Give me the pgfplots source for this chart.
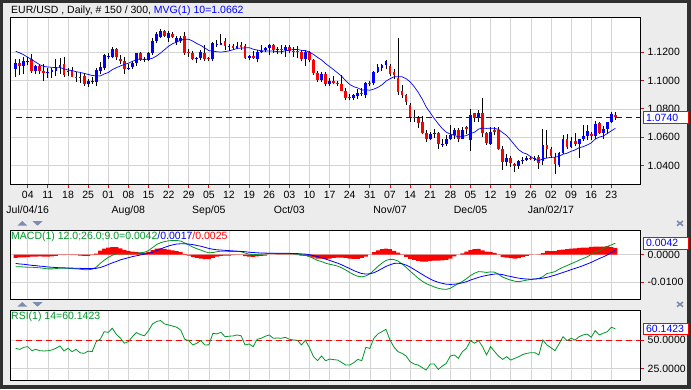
\documentclass[border=0pt]{standalone}
\usepackage{pgfplots}
\pgfplotsset{compat=1.18}
\usepackage{pgfplotstable}
\usepackage{fontspec}
\setmainfont{Liberation Sans}
\definecolor{framec}{RGB}{48,48,48}
\definecolor{bgc}{RGB}{236,236,236}
\definecolor{gridc}{RGB}{212,212,212}
\definecolor{mgreen}{RGB}{0,150,40}
\definecolor{iconc}{RGB}{125,140,175}

\pgfplotstableread{
i O H L C M
0 1.1085 1.1150 1.1025 1.1127 1.1207
1 1.1127 1.1150 1.1040 1.1105 1.1196
2 1.1103 1.1170 1.1050 1.1135 1.1182
3 1.1135 1.1165 1.1110 1.1142 1.1165
4 1.1150 1.1188 1.1052 1.1070 1.1148
5 1.1070 1.1112 1.1045 1.1105 1.1130
6 1.1103 1.1118 1.1050 1.1068 1.1112
7 1.1068 1.1120 1.1000 1.1052 1.1100
8 1.1052 1.1087 1.1020 1.1063 1.1096
9 1.1063 1.1090 1.1020 1.1075 1.1094
10 1.1070 1.1150 1.1030 1.1099 1.1091
11 1.1099 1.1160 1.1050 1.1113 1.1092
12 1.1118 1.1165 1.1025 1.1038 1.1083
13 1.1060 1.1090 1.1030 1.1068 1.1075
14 1.1075 1.1095 1.1022 1.1028 1.1071
15 1.1025 1.1060 1.0990 1.1022 1.1063
16 1.1020 1.1058 1.0985 1.1025 1.1058
17 1.1033 1.1050 1.0960 1.0977 1.1051
18 1.0975 1.1010 1.0955 1.0998 1.1044
19 1.0988 1.1022 1.0975 1.0995 1.1036
20 1.0990 1.1090 1.0965 1.1075 1.1034
21 1.1070 1.1128 1.1050 1.1099 1.1033
22 1.1087 1.1190 1.1075 1.1180 1.1047
23 1.1168 1.1195 1.1150 1.1172 1.1057
24 1.1169 1.1235 1.1160 1.1226 1.1077
25 1.1226 1.1230 1.1145 1.1164 1.1091
26 1.1155 1.1182 1.1120 1.1141 1.1103
27 1.1141 1.1165 1.1045 1.1085 1.1114
28 1.1088 1.1115 1.1075 1.1092 1.1123
29 1.1099 1.1135 1.1080 1.1127 1.1136
30 1.1127 1.1197 1.1100 1.1193 1.1148
31 1.1193 1.1200 1.1135 1.1146 1.1153
32 1.1146 1.1170 1.1130 1.1155 1.1150
33 1.1146 1.1200 1.1140 1.1193 1.1152
34 1.1193 1.1300 1.1180 1.1282 1.1158
35 1.1282 1.1340 1.1265 1.1329 1.1174
36 1.1310 1.1368 1.1300 1.1350 1.1195
37 1.1349 1.1360 1.1305 1.1318 1.1219
38 1.1301 1.1350 1.1270 1.1337 1.1243
39 1.1330 1.1345 1.1300 1.1308 1.1261
40 1.1270 1.1315 1.1255 1.1301 1.1272
41 1.1277 1.1318 1.1265 1.1301 1.1287
42 1.1318 1.1343 1.1180 1.1198 1.1292
43 1.1205 1.1225 1.1170 1.1198 1.1292
44 1.1193 1.1210 1.1145 1.1152 1.1279
45 1.1155 1.1170 1.1122 1.1158 1.1262
46 1.1157 1.1218 1.1145 1.1205 1.1248
47 1.1193 1.1250 1.1140 1.1150 1.1231
48 1.1158 1.1170 1.1135 1.1150 1.1212
49 1.1150 1.1272 1.1140 1.1265 1.1208
50 1.1250 1.1290 1.1240 1.1262 1.1204
51 1.1255 1.1330 1.1250 1.1268 1.1201
52 1.1277 1.1300 1.1218 1.1241 1.1205
53 1.1240 1.1260 1.1210 1.1245 1.1210
54 1.1245 1.1258 1.1218 1.1232 1.1218
55 1.1232 1.1275 1.1220 1.1248 1.1227
56 1.1250 1.1270 1.1215 1.1240 1.1230
57 1.1245 1.1258 1.1150 1.1157 1.1231
58 1.1160 1.1180 1.1145 1.1172 1.1233
59 1.1175 1.1210 1.1150 1.1158 1.1222
60 1.1155 1.1215 1.1130 1.1200 1.1216
61 1.1200 1.1250 1.1195 1.1212 1.1211
62 1.1215 1.1240 1.1200 1.1228 1.1209
63 1.1228 1.1262 1.1180 1.1250 1.1210
64 1.1250 1.1260 1.1195 1.1215 1.1208
65 1.1215 1.1240 1.1190 1.1220 1.1205
66 1.1222 1.1255 1.1185 1.1218 1.1203
67 1.1218 1.1250 1.1165 1.1240 1.1211
68 1.1240 1.1250 1.1195 1.1210 1.1215
69 1.1210 1.1240 1.1165 1.1205 1.1220
70 1.1206 1.1245 1.1160 1.1202 1.1220
71 1.1205 1.1215 1.1135 1.1155 1.1214
72 1.1155 1.1215 1.1100 1.1200 1.1212
73 1.1200 1.1210 1.1130 1.1143 1.1201
74 1.1143 1.1155 1.1040 1.1056 1.1185
75 1.1056 1.1065 1.0990 1.1005 1.1164
76 1.1005 1.1060 1.0990 1.1045 1.1146
77 1.1045 1.1060 1.0960 1.0973 1.1120
78 1.0973 1.1020 1.0965 1.1000 1.1099
79 1.1000 1.1030 1.0975 1.0985 1.1077
80 1.0985 1.1000 1.0960 1.0975 1.1054
81 1.0975 1.1038 1.0925 1.0930 1.1031
82 1.0930 1.0945 1.0860 1.0880 1.0999
83 1.0885 1.0905 1.0860 1.0880 1.0973
84 1.0875 1.0905 1.0860 1.0895 1.0957
85 1.0892 1.0940 1.0870 1.0915 1.0948
86 1.0915 1.0945 1.0890 1.0903 1.0934
87 1.0898 1.0990 1.0880 1.0981 1.0934
88 1.0985 1.0995 1.0960 1.0978 1.0932
89 1.0980 1.1070 1.0970 1.1063 1.0940
90 1.1063 1.1115 1.1055 1.1098 1.0952
91 1.1090 1.1120 1.1070 1.1110 1.0970
92 1.1110 1.1145 1.1080 1.1140 1.0996
93 1.1105 1.1118 1.1030 1.1045 1.1013
94 1.1063 1.1080 1.1010 1.1040 1.1027
95 1.1020 1.1300 1.0900 1.0920 1.1028
96 1.0926 1.0970 1.0880 1.0898 1.1027
97 1.0898 1.0905 1.0825 1.0851 1.1014
98 1.0827 1.0840 1.0708 1.0745 1.0991
99 1.0745 1.0790 1.0710 1.0733 1.0958
100 1.0733 1.0750 1.0665 1.0700 1.0918
101 1.0710 1.0750 1.0620 1.0627 1.0870
102 1.0627 1.0650 1.0568 1.0585 1.0814
103 1.0587 1.0640 1.0580 1.0626 1.0773
104 1.0626 1.0657 1.0595 1.0633 1.0732
105 1.0633 1.0640 1.0518 1.0552 1.0695
106 1.0552 1.0585 1.0530 1.0555 1.0661
107 1.0555 1.0615 1.0535 1.0590 1.0635
108 1.0590 1.0686 1.0580 1.0614 1.0622
109 1.0614 1.0666 1.0586 1.0650 1.0613
110 1.0650 1.0665 1.0566 1.0590 1.0602
111 1.0590 1.0674 1.0587 1.0650 1.0605
112 1.0670 1.0680 1.0620 1.0655 1.0612
113 1.0580 1.0797 1.0505 1.0757 1.0625
114 1.0769 1.0770 1.0710 1.0738 1.0635
115 1.0738 1.0790 1.0710 1.0769 1.0657
116 1.0769 1.0875 1.0600 1.0632 1.0665
117 1.0632 1.0640 1.0545 1.0561 1.0662
118 1.0550 1.0670 1.0545 1.0635 1.0664
119 1.0651 1.0670 1.0615 1.0637 1.0662
120 1.0651 1.0670 1.0510 1.0514 1.0655
121 1.0514 1.0540 1.0365 1.0425 1.0632
122 1.0425 1.0480 1.0395 1.0455 1.0612
123 1.0455 1.0465 1.0390 1.0420 1.0579
124 1.0408 1.0420 1.0352 1.0396 1.0544
125 1.0396 1.0440 1.0375 1.0430 1.0511
126 1.0430 1.0460 1.0410 1.0438 1.0491
127 1.0438 1.0470 1.0430 1.0455 1.0481
128 1.0455 1.0465 1.0440 1.0450 1.0462
129 1.0447 1.0470 1.0435 1.0455 1.0444
130 1.0460 1.0475 1.0375 1.0420 1.0434
131 1.0431 1.0655 1.0405 1.0547 1.0447
132 1.0547 1.0650 1.0450 1.0520 1.0453
133 1.0514 1.0530 1.0455 1.0467 1.0458
134 1.0460 1.0485 1.0340 1.0410 1.0459
135 1.0405 1.0495 1.0390 1.0490 1.0465
136 1.0490 1.0615 1.0480 1.0585 1.0480
137 1.0585 1.0620 1.0520 1.0530 1.0487
138 1.0530 1.0600 1.0525 1.0575 1.0500
139 1.0575 1.0630 1.0535 1.0555 1.0510
140 1.0555 1.0590 1.0455 1.0585 1.0526
141 1.0585 1.0685 1.0570 1.0610 1.0533
142 1.0610 1.0685 1.0580 1.0645 1.0545
143 1.0620 1.0635 1.0580 1.0605 1.0559
144 1.0605 1.0715 1.0590 1.0690 1.0587
145 1.0702 1.0705 1.0620 1.0628 1.0601
146 1.0628 1.0680 1.0590 1.0660 1.0608
147 1.0655 1.0710 1.0625 1.0705 1.0626
148 1.0704 1.0775 1.0700 1.0763 1.0645
149 1.0757 1.0775 1.0725 1.0740 1.0663
}\ohlc

\pgfplotstableread{
i g b h r
0 -0.0044 -0.0032 -0.0012 42.9
1 -0.0044 -0.0034 -0.0010 42.0
2 -0.0045 -0.0035 -0.0010 43.8
3 -0.0046 -0.0037 -0.0009 44.4
4 -0.0046 -0.0039 -0.0007 40.9
5 -0.0047 -0.0040 -0.0007 42.0
6 -0.0048 -0.0042 -0.0006 40.9
7 -0.0050 -0.0043 -0.0007 40.6
8 -0.0052 -0.0045 -0.0007 40.8
9 -0.0052 -0.0046 -0.0006 41.5
10 -0.0051 -0.0047 -0.0004 43.0
11 -0.0049 -0.0048 -0.0001 45.0
12 -0.0050 -0.0048 -0.0002 40.6
13 -0.0050 -0.0049 -0.0001 43.0
14 -0.0051 -0.0049 -0.0002 40.0
15 -0.0052 -0.0050 -0.0002 42.0
16 -0.0053 -0.0050 -0.0003 39.0
17 -0.0055 -0.0051 -0.0004 38.5
18 -0.0055 -0.0051 -0.0004 40.5
19 -0.0053 -0.0051 -0.0002 40.0
20 -0.0046 -0.0050 0.0004 48.8
21 -0.0032 -0.0047 0.0015 50.9
22 -0.0020 -0.0042 0.0022 57.6
23 -0.0010 -0.0036 0.0026 57.0
24 -0.0002 -0.0030 0.0028 60.6
25 0.0003 -0.0025 0.0028 55.3
26 0.0004 -0.0019 0.0023 52.0
27 0.0003 -0.0015 0.0018 47.4
28 0.0003 -0.0011 0.0014 48.8
29 0.0004 -0.0007 0.0011 53.2
30 0.0006 -0.0004 0.0010 56.8
31 0.0007 -0.0001 0.0008 55.0
32 0.0009 0.0002 0.0007 54.0
33 0.0015 0.0005 0.0010 58.5
34 0.0026 0.0009 0.0017 64.4
35 0.0037 0.0015 0.0022 66.5
36 0.0044 0.0021 0.0023 67.4
37 0.0048 0.0027 0.0021 64.4
38 0.0051 0.0032 0.0019 63.5
39 0.0052 0.0036 0.0016 62.5
40 0.0052 0.0039 0.0013 61.5
41 0.0050 0.0040 0.0010 59.1
42 0.0043 0.0040 0.0003 50.9
43 0.0036 0.0039 -0.0003 49.7
44 0.0028 0.0037 -0.0009 45.9
45 0.0022 0.0034 -0.0012 47.4
46 0.0017 0.0031 -0.0014 49.7
47 0.0011 0.0027 -0.0016 45.9
48 0.0007 0.0023 -0.0016 46.0
49 0.0008 0.0020 -0.0012 56.2
50 0.0011 0.0018 -0.0007 55.6
51 0.0013 0.0017 -0.0004 57.1
52 0.0013 0.0016 -0.0003 53.2
53 0.0012 0.0015 -0.0003 53.6
54 0.0012 0.0014 -0.0002 53.8
55 0.0012 0.0013 -0.0001 54.7
56 0.0011 0.0012 -0.0001 54.0
57 0.0006 0.0011 -0.0005 45.9
58 0.0002 0.0009 -0.0007 46.8
59 0.0000 0.0008 -0.0008 44.4
60 0.0001 0.0007 -0.0006 50.9
61 0.0002 0.0006 -0.0004 51.8
62 0.0003 0.0006 -0.0003 53.5
63 0.0005 0.0005 0.0000 54.7
64 0.0005 0.0005 0.0000 51.8
65 0.0004 0.0005 -0.0001 52.0
66 0.0004 0.0005 -0.0001 51.8
67 0.0004 0.0005 -0.0001 52.6
68 0.0004 0.0005 -0.0001 50.9
69 0.0003 0.0004 -0.0001 50.3
70 0.0002 0.0004 -0.0002 50.0
71 0.0000 0.0003 -0.0003 45.9
72 -0.0002 0.0002 -0.0004 50.0
73 -0.0007 0.0000 -0.0007 43.5
74 -0.0014 -0.0003 -0.0011 35.6
75 -0.0021 -0.0007 -0.0014 32.1
76 -0.0025 -0.0011 -0.0014 36.2
77 -0.0031 -0.0016 -0.0015 32.0
78 -0.0035 -0.0021 -0.0014 33.5
79 -0.0038 -0.0026 -0.0012 33.0
80 -0.0042 -0.0031 -0.0011 32.6
81 -0.0048 -0.0037 -0.0011 30.5
82 -0.0056 -0.0044 -0.0012 28.2
83 -0.0065 -0.0051 -0.0014 28.2
84 -0.0073 -0.0058 -0.0015 30.3
85 -0.0079 -0.0064 -0.0015 33.2
86 -0.0081 -0.0069 -0.0012 32.1
87 -0.0078 -0.0071 -0.0007 43.8
88 -0.0070 -0.0070 0.0000 42.9
89 -0.0057 -0.0066 0.0009 51.8
90 -0.0043 -0.0059 0.0016 55.6
91 -0.0031 -0.0051 0.0020 57.6
92 -0.0021 -0.0043 0.0022 59.7
93 -0.0017 -0.0037 0.0020 50.3
94 -0.0018 -0.0032 0.0014 44.0
95 -0.0023 -0.0031 0.0008 40.0
96 -0.0034 -0.0033 -0.0001 38.5
97 -0.0046 -0.0038 -0.0008 36.2
98 -0.0060 -0.0045 -0.0015 31.2
99 -0.0073 -0.0054 -0.0019 29.1
100 -0.0086 -0.0063 -0.0023 28.2
101 -0.0097 -0.0072 -0.0025 26.0
102 -0.0106 -0.0081 -0.0025 23.8
103 -0.0112 -0.0089 -0.0023 29.1
104 -0.0118 -0.0096 -0.0022 29.1
105 -0.0123 -0.0101 -0.0022 24.4
106 -0.0126 -0.0105 -0.0021 27.4
107 -0.0127 -0.0108 -0.0019 29.7
108 -0.0123 -0.0109 -0.0014 36.2
109 -0.0114 -0.0108 -0.0006 37.1
110 -0.0106 -0.0106 0.0000 34.1
111 -0.0098 -0.0103 0.0005 40.0
112 -0.0088 -0.0099 0.0011 42.9
113 -0.0076 -0.0093 0.0017 49.7
114 -0.0068 -0.0088 0.0020 47.4
115 -0.0062 -0.0083 0.0021 49.7
116 -0.0063 -0.0079 0.0016 44.4
117 -0.0065 -0.0076 0.0011 37.1
118 -0.0063 -0.0073 0.0010 44.4
119 -0.0064 -0.0071 0.0007 40.0
120 -0.0072 -0.0071 -0.0001 36.0
121 -0.0082 -0.0073 -0.0009 33.2
122 -0.0088 -0.0077 -0.0011 35.6
123 -0.0093 -0.0080 -0.0013 32.6
124 -0.0097 -0.0083 -0.0014 34.1
125 -0.0099 -0.0086 -0.0013 35.6
126 -0.0096 -0.0088 -0.0008 37.5
127 -0.0093 -0.0089 -0.0004 38.5
128 -0.0091 -0.0090 -0.0001 39.1
129 -0.0089 -0.0089 0.0000 39.1
130 -0.0087 -0.0088 0.0001 37.1
131 -0.0080 -0.0086 0.0006 50.3
132 -0.0069 -0.0083 0.0014 45.9
133 -0.0066 -0.0079 0.0013 43.5
134 -0.0062 -0.0075 0.0013 40.9
135 -0.0053 -0.0070 0.0017 46.8
136 -0.0046 -0.0065 0.0019 53.2
137 -0.0040 -0.0060 0.0020 49.7
138 -0.0033 -0.0055 0.0022 51.8
139 -0.0027 -0.0050 0.0023 50.3
140 -0.0020 -0.0045 0.0025 53.2
141 -0.0014 -0.0040 0.0026 54.7
142 -0.0008 -0.0034 0.0026 55.5
143 0.0001 -0.0028 0.0029 52.6
144 0.0009 -0.0021 0.0030 58.5
145 0.0016 -0.0014 0.0030 54.7
146 0.0022 -0.0008 0.0030 56.2
147 0.0030 -0.0001 0.0031 57.6
148 0.0036 0.0008 0.0028 61.5
149 0.0042 0.0017 0.0025 60.14
}\indtab

\pgfplotsset{
  panel/.style={
    scale only axis, width=630pt,
    xmin=-1.24, xmax=155.3,
    axis background/.style={fill=white},
    axis line style={black, line width=0.8pt},
    xtick={3,8,...,148},
    grid=major,
    major grid style={gridc, line width=0.6pt},
    ytick pos=right, yticklabel pos=right,
    xtick pos=left,
    tick align=outside,
    major tick length=3.5pt,
    ytick style={red, line width=0.8pt},
    tick label style={font=\fontsize{10.5}{15}\selectfont},
    yticklabel style={anchor=west},
    scaled ticks=false,
    clip mode=individual,
  },
}

\begin{document}
\begin{tikzpicture}
\useasboundingbox (0,0) rectangle (691pt,389pt);
\fill[framec] (0,0) rectangle (691pt,389pt);
\fill[bgc] (3pt,4pt) rectangle (687pt,386pt);

% ---------- price panel ----------
\begin{axis}[panel, at={(10.7pt,205pt)}, anchor=south west, height=166.7pt,
  ymin=1.02693, ymax=1.14473,
  ytick={1.04,1.06,1.08,1.10,1.12},
  yticklabels={1.0400,1.0600,1.0800,1.1000,1.1200},
  xtick style={red, line width=0.8pt},
  xticklabel style={align=center, anchor=north},
  xticklabels={{04\\Jul/04/16},11,18,25,01,{08\\Aug/08},15,22,29,{05\\Sep/05},12,19,26,{03\\Oct/03},10,17,24,31,{07\\Nov/07},14,21,28,{05\\Dec/05},12,19,26,{02\\Jan/02/17},09,16,23},
]
\addplot[blue, line width=1.2pt, dash pattern=on 6pt off 4pt] coordinates {(0,1.0740) (155.3,1.0740)};
\addplot[black, line width=0.9pt, -, quiver={u=0, v=\thisrow{H}-\thisrow{L}}] table[x=i, y=L] {\ohlc};
\addplot[blue, line width=2.8pt, -, quiver={u=0, v=\thisrow{C}-\thisrow{O}},
  restrict expr to domain={\thisrow{C}-\thisrow{O}}{0:1}] table[x=i, y=O] {\ohlc};
\addplot[red, line width=2.8pt, -, quiver={u=0, v=\thisrow{C}-\thisrow{O}},
  restrict expr to domain={\thisrow{C}-\thisrow{O}}{-1:0}] table[x=i, y=O] {\ohlc};
\addplot[blue, line width=0.7pt] table[x=i, y=M] {\ohlc};
\coordinate (box1) at (axis cs:155.3,1.0740);
\end{axis}

% ---------- MACD panel ----------
\begin{axis}[panel, at={(10.7pt,89.7pt)}, anchor=south west, height=69.3pt,
  ymin=-0.01634, ymax=0.00905,
  ytick={-0.01,0}, yticklabels={-0.0100,0.0000},
  xticklabels={}, xtick style={draw=none},
]
\addplot[ybar, bar width=4.03pt, bar shift=0pt, fill=red, draw=none] table[x=i, y=h] {\indtab};
\addplot[mgreen, line width=0.8pt] table[x=i, y=g] {\indtab};
\addplot[blue, line width=0.8pt] table[x=i, y=b] {\indtab};
\coordinate (box2) at (axis cs:155.3,0.0042);
\end{axis}

% ---------- RSI panel ----------
\begin{axis}[panel, at={(10.7pt,8.3pt)}, anchor=south west, height=70.7pt,
  ymin=14.44, ymax=76.67,
  ytick={25,50}, yticklabels={25.0000,50.0000},
  xticklabels={}, xtick style={draw=none},
]
\addplot[red, line width=1.2pt, dash pattern=on 6pt off 4pt] coordinates {(0,50) (155.3,50)};
\addplot[mgreen, line width=0.8pt] table[x=i, y=r] {\indtab};
\coordinate (box3) at (axis cs:155.3,60.1423);
\end{axis}

% ---------- titles ----------
\node[anchor=base west, inner sep=0pt, font=\fontsize{10.5}{12}\selectfont] at (11pt,375pt)
  {EUR/USD , Daily, \# 150 / 300, \textcolor{blue}{MVG(1) 10=1.0662}};
\node[anchor=base west, inner sep=0pt, font=\fontsize{10.5}{12}\selectfont] at (11pt,149.5pt)
  {\textcolor{mgreen}{MACD(1) 12.0;26.0;9.0=0.0042}\textcolor{blue}{/0.0017}\textcolor{red}{/0.0025}};
\node[anchor=base west, inner sep=0pt, font=\fontsize{10.5}{12}\selectfont] at (11pt,69.5pt)
  {\textcolor{mgreen}{RSI(1) 14=60.1423}};

% ---------- value boxes ----------
\tikzset{vbox/.style={draw=red, line width=0.8pt, fill=white, text=blue, anchor=west,
  text width=39pt, align=left, inner xsep=3pt, inner ysep=0pt, minimum height=11.5pt,
  font=\fontsize{10.5}{12}\selectfont}}
\node[vbox, xshift=2pt] at (box1) {1.0740};
\node[vbox, xshift=2pt] at (box2) {0.0042};
\node[vbox, xshift=2pt] at (box3) {60.1423};

% ---------- panel icons ----------
\fill[iconc] (17.3pt,163.3pt) -- (27.3pt,163.3pt) -- (22.3pt,168pt) -- cycle;
\fill[iconc] (32.3pt,168pt) -- (42.7pt,168pt) -- (37.5pt,163.3pt) -- cycle;
\fill[iconc] (17.3pt,82.3pt) -- (27.3pt,82.3pt) -- (22.3pt,87pt) -- cycle;
\fill[iconc] (32.3pt,87pt) -- (42.7pt,87pt) -- (37.5pt,82.3pt) -- cycle;
\draw[iconc, line width=1.6pt] (677pt,163.3pt) -- (683pt,168pt) (677pt,168pt) -- (683pt,163.3pt);
\draw[iconc, line width=1.6pt] (677pt,82.3pt) -- (683pt,87pt) (677pt,87pt) -- (683pt,82.3pt);
\end{tikzpicture}
\end{document}
